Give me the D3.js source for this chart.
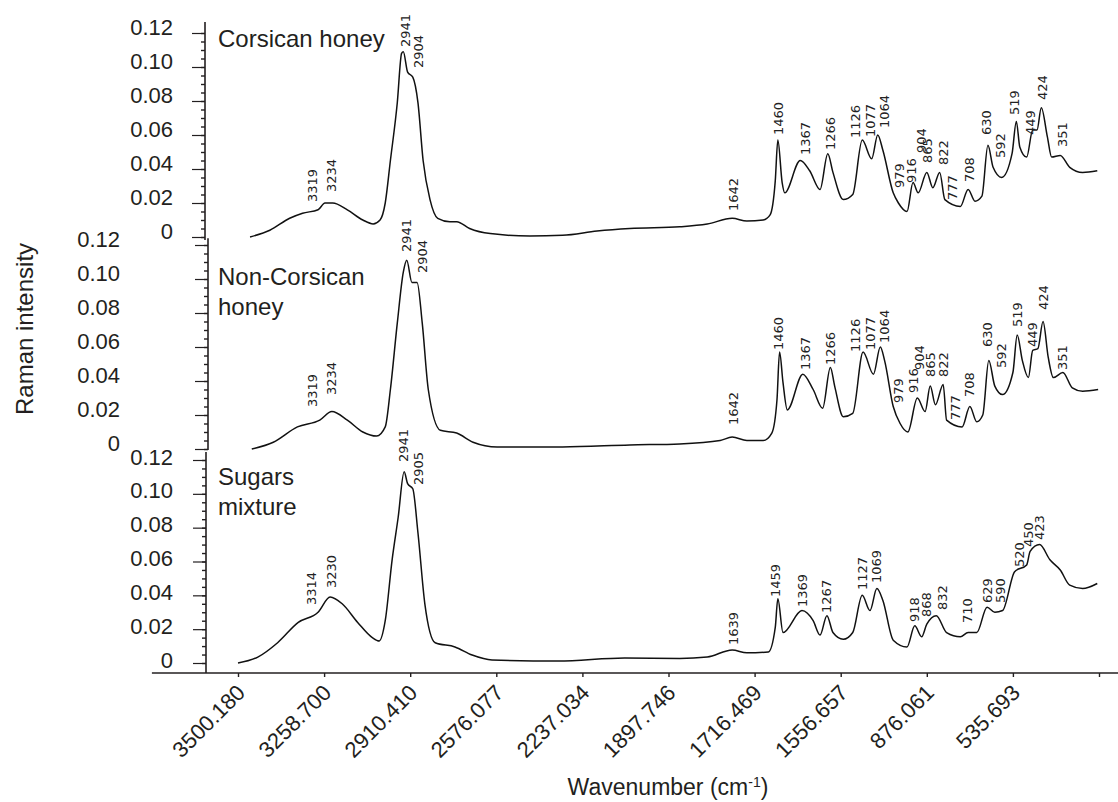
<!DOCTYPE html>
<html>
<head>
<meta charset="utf-8">
<script src="https://cdn.jsdelivr.net/npm/d3@7"></script>
<style>
  body { margin: 0; background: #fff; }
  svg { font-family: "Liberation Sans", Arial, sans-serif; }
</style>
</head>
<body>
<div id="chart"></div>
<script>
// axis labels as printed (the axis is positional, tick i sits at position i)
const xTickLabels = ["3500.180", "3258.700", "2910.410", "2576.077", "2237.034",
  "1897.746", "1716.469", "1556.657", "876.061", "535.693", ""];
const yTicks = [0, 0.02, 0.04, 0.06, 0.08, 0.10, 0.12];
const panelNames = [["Corsican honey"], ["Non-Corsican", "honey"], ["Sugars", "mixture"]];

// spectra: [axis position, Raman intensity]
const corsicanSpectrum = [
  [0.14,0.000],[0.37,0.004],[0.60,0.011],[0.75,0.014],[0.93,0.016],[1.01,0.020],[1.10,0.020],
  [1.27,0.016],[1.45,0.010],[1.57,0.0077],[1.65,0.010],[1.71,0.020],[1.77,0.045],[1.85,0.079],
  [1.90,0.108],[1.92,0.109],[1.97,0.097],[2.03,0.094],[2.09,0.079],[2.15,0.045],[2.23,0.022],
  [2.32,0.011],[2.46,0.009],[2.54,0.009],[2.69,0.005],[2.93,0.002],[3.39,0.0006],[3.77,0.001],
  [4.17,0.0035],[4.55,0.005],[5.13,0.006],[5.45,0.0076],[5.74,0.011],[5.91,0.0094],[6.10,0.010],
  [6.18,0.013],[6.24,0.033],[6.27,0.057],[6.32,0.032],[6.35,0.026],[6.53,0.045],[6.64,0.039],
  [6.76,0.028],[6.85,0.049],[6.91,0.038],[7.03,0.022],[7.14,0.025],[7.25,0.057],[7.36,0.046],
  [7.43,0.060],[7.49,0.051],[7.61,0.026],[7.67,0.020],[7.77,0.015],[7.84,0.032],[7.90,0.026],
  [8.00,0.038],[8.07,0.029],[8.15,0.038],[8.21,0.022],[8.39,0.018],[8.48,0.028],[8.56,0.021],
  [8.64,0.024],[8.71,0.054],[8.77,0.041],[8.87,0.035],[8.99,0.049],[9.04,0.068],[9.08,0.053],
  [9.16,0.047],[9.23,0.063],[9.28,0.063],[9.33,0.076],[9.40,0.059],[9.45,0.047],[9.55,0.048],
  [9.66,0.041],[9.81,0.038],[9.98,0.039]
];
const nonCorsicanSpectrum = [
  [0.16,0.000],[0.41,0.004],[0.69,0.013],[0.95,0.017],[1.09,0.022],[1.27,0.017],[1.45,0.010],
  [1.61,0.0076],[1.71,0.013],[1.77,0.035],[1.85,0.074],[1.92,0.104],[1.96,0.111],[2.02,0.098],
  [2.08,0.098],[2.14,0.074],[2.21,0.035],[2.35,0.011],[2.54,0.0094],[2.73,0.004],[3.01,0.0012],
  [3.77,0.0012],[4.55,0.0024],[5.13,0.003],[5.60,0.005],[5.74,0.007],[5.91,0.005],[6.10,0.005],
  [6.20,0.0094],[6.26,0.029],[6.29,0.057],[6.33,0.039],[6.38,0.023],[6.56,0.044],[6.68,0.035],
  [6.79,0.024],[6.88,0.048],[6.93,0.037],[7.03,0.019],[7.14,0.021],[7.26,0.057],[7.38,0.044],
  [7.46,0.060],[7.51,0.052],[7.61,0.025],[7.69,0.015],[7.78,0.010],[7.89,0.030],[7.98,0.022],
  [8.04,0.037],[8.10,0.026],[8.19,0.038],[8.23,0.017],[8.41,0.013],[8.50,0.025],[8.58,0.016],
  [8.65,0.020],[8.72,0.052],[8.79,0.037],[8.88,0.032],[9.00,0.045],[9.05,0.067],[9.11,0.052],
  [9.18,0.042],[9.23,0.058],[9.29,0.059],[9.35,0.075],[9.41,0.054],[9.47,0.042],[9.58,0.045],
  [9.69,0.036],[9.81,0.034],[9.99,0.035]
];
const sugarsSpectrum = [
  [0.00,0.000],[0.23,0.0035],[0.46,0.012],[0.70,0.024],[0.93,0.030],[1.07,0.039],[1.21,0.035],
  [1.39,0.024],[1.56,0.015],[1.64,0.013],[1.71,0.025],[1.79,0.061],[1.86,0.086],[1.93,0.113],
  [1.97,0.106],[2.03,0.103],[2.09,0.077],[2.17,0.035],[2.29,0.012],[2.52,0.0095],[2.72,0.0047],
  [2.95,0.0018],[3.72,0.0012],[4.49,0.003],[5.13,0.0027],[5.45,0.0035],[5.74,0.0077],[5.91,0.006],
  [6.16,0.0065],[6.24,0.021],[6.27,0.038],[6.33,0.018],[6.55,0.031],[6.68,0.025],[6.76,0.0165],
  [6.84,0.028],[6.91,0.018],[7.03,0.014],[7.14,0.018],[7.25,0.040],[7.34,0.031],[7.42,0.044],
  [7.49,0.037],[7.61,0.0135],[7.77,0.0095],[7.86,0.022],[7.94,0.0155],[8.00,0.023],[8.11,0.028],
  [8.23,0.018],[8.39,0.0155],[8.48,0.018],[8.58,0.018],[8.70,0.033],[8.79,0.030],[8.88,0.031],
  [9.02,0.054],[9.16,0.058],[9.20,0.066],[9.31,0.070],[9.43,0.061],[9.55,0.055],[9.66,0.046],
  [9.81,0.044],[9.98,0.047]
];

// peak annotations: [wavenumber, axis position, intensity at the foot of the label]
const corsicanPeaks = [
  ["3319",0.86,0.0206],["3234",1.08,0.0265],["2941",1.94,0.1118],["2904",2.09,0.0994],
  ["1642",5.75,0.0153],["1460",6.28,0.060],["1367",6.59,0.0482],["1266",6.88,0.0512],
  ["1126",7.17,0.0582],["1077",7.34,0.0588],["1064",7.51,0.0641],["979",7.68,0.0288],
  ["916",7.82,0.0318],["904",7.94,0.0494],["865",8.01,0.0435],["822",8.19,0.0424],
  ["777",8.30,0.0218],["708",8.50,0.0324],["630",8.69,0.060],["592",8.85,0.0465],
  ["519",9.02,0.0718],["449",9.20,0.060],["424",9.34,0.0806],["351",9.57,0.0529]
];
const nonCorsicanPeaks = [
  ["3319",0.87,0.0247],["3234",1.09,0.0318],["2941",1.96,0.1159],["2904",2.14,0.1035],
  ["1642",5.75,0.0141],["1460",6.28,0.0582],["1367",6.59,0.0465],["1266",6.88,0.0494],
  ["1126",7.17,0.0571],["1077",7.34,0.0582],["1064",7.51,0.0624],["979",7.67,0.0271],
  ["916",7.84,0.0329],["904",7.92,0.0465],["865",8.04,0.0424],["822",8.19,0.0424],
  ["777",8.33,0.0171],["708",8.50,0.0306],["630",8.70,0.060],["592",8.87,0.0476],
  ["519",9.05,0.0718],["449",9.23,0.060],["424",9.35,0.0818],["351",9.57,0.0465]
];
const sugarsPeaks = [
  ["3314",0.85,0.0343],["3230",1.09,0.0443],["2941",1.92,0.1188],["2905",2.09,0.1052],
  ["1639",5.75,0.0106],["1459",6.24,0.039],["1369",6.56,0.0331],["1267",6.84,0.0296],
  ["1127",7.25,0.0431],["1069",7.42,0.0473],["918",7.86,0.0242],["868",8.00,0.0272],
  ["832",8.18,0.0313],["710",8.47,0.0236],["629",8.71,0.0355],["590",8.85,0.0355],
  ["520",9.08,0.0567],["450",9.18,0.0686],["423",9.31,0.0727]
];

const width = 1118, height = 802;
const ink = "#231f20";
const axisY = 673;

const svg = d3.select("#chart")
  .append("svg")
    .attr("width", width)
    .attr("height", height)
    .attr("viewBox", [0, 0, width, height]);

const xScale = d3.scaleLinear()
  .domain([0, 10])
  .range([238, 1099]);

// three stacked panels, each with its own intensity axis
const panels = [
  { name: panelNames[0], spectrum: corsicanSpectrum, peaks: corsicanPeaks,
    range: [237, 33], axisX: 205, extent: [-0.0018, 0.1265], pad: 19, shift: -6, nameY: 47 },
  { name: panelNames[1], spectrum: nonCorsicanSpectrum, peaks: nonCorsicanPeaks,
    range: [449, 245], axisX: 208, extent: [-0.0006, 0.124], pad: 75, shift: -6, nameY: 285 },
  { name: panelNames[2], spectrum: sugarsSpectrum, peaks: sugarsPeaks,
    range: [663, 460], axisX: 206, extent: [-0.0059, 0.1247], pad: 20, shift: -3, nameY: 485 }
];

panels.forEach(p => {
  const yScale = d3.scaleLinear()
    .domain([0, 0.12])
    .range(p.range);

  const g = svg.append("g")
    .attr("transform", `translate(${p.axisX}, 0)`);

  // axis line
  g.append("line")
    .attr("y1", yScale(p.extent[0]))
    .attr("y2", yScale(p.extent[1]))
    .attr("stroke", ink)
    .attr("stroke-width", 1.6);

  // minor ticks
  g.append("g")
    .call(d3.axisLeft(yScale)
      .tickValues(d3.range(0, 0.1201, 0.005))
      .tickSize(4)
      .tickFormat(""))
    .call(a => a.select(".domain").remove())
    .call(a => a.selectAll("line").attr("stroke", ink).attr("stroke-width", 1.4));

  // major ticks
  g.append("g")
    .call(d3.axisLeft(yScale)
      .tickValues(yTicks)
      .tickSize(13)
      .tickPadding(p.pad)
      .tickFormat(d => d === 0 ? "0" : d3.format(".2f")(d)))
    .call(a => a.select(".domain").remove())
    .call(a => a.selectAll("line").attr("stroke", ink).attr("stroke-width", 1.2))
    .call(a => a.selectAll("text")
      .attr("y", p.shift)
      .attr("fill", ink)
      .style("font-size", "22px")
      .style("font-family", "'Liberation Sans', Arial, sans-serif"));

  // spectrum
  const line = d3.line()
    .x(d => xScale(d[0]))
    .y(d => yScale(d[1]))
    .curve(d3.curveMonotoneX);
  svg.append("path")
    .datum(p.spectrum)
    .attr("d", line)
    .attr("fill", "none")
    .attr("stroke", "#111")
    .attr("stroke-width", 1.5)
    .attr("stroke-linejoin", "round");

  // peak labels
  svg.append("g")
    .selectAll("text")
    .data(p.peaks)
    .join("text")
      .attr("transform", d => `translate(${xScale(d[1])}, ${yScale(d[2])}) rotate(-90)`)
      .attr("dy", "0.35em")
      .attr("fill", "#222")
      .style("font-family", "'DejaVu Sans', sans-serif")
      .style("font-size", "13px")
      .text(d => d[0]);

  // panel name
  const nameText = svg.append("text")
    .attr("x", 218)
    .attr("y", p.nameY)
    .attr("fill", ink)
    .style("font-size", "24px");
  p.name.forEach((s, i) => {
    nameText.append("tspan")
      .attr("x", 218)
      .attr("dy", i === 0 ? 0 : 30)
      .text(s);
  });
});

// bottom axis
svg.append("line")
  .attr("x1", xScale(-1))
  .attr("x2", xScale(10.23))
  .attr("y1", axisY)
  .attr("y2", axisY)
  .attr("stroke", ink)
  .attr("stroke-width", 1.4);

const bottomAxis = d3.axisBottom(xScale)
  .tickValues(d3.range(0, 11))
  .tickSize(4)
  .tickFormat(i => xTickLabels[i]);
svg.append("g")
  .attr("transform", `translate(0, ${axisY})`)
  .call(bottomAxis)
  .call(a => a.select(".domain").remove())
  .call(a => a.selectAll("line").attr("stroke", ink).attr("stroke-width", 1.4))
  .call(a => a.selectAll("text")
    .attr("x", 0)
    .attr("y", 0)
    .attr("dy", null)
    .attr("text-anchor", "end")
    .attr("transform", "translate(8, 21) rotate(-45)")
    .attr("fill", ink)
    .style("font-size", "22px")
    .style("font-family", "'Liberation Sans', Arial, sans-serif"));

// axis titles
svg.append("text")
  .attr("transform", "translate(33, 329) rotate(-90)")
  .attr("text-anchor", "middle")
  .attr("fill", ink)
  .style("font-size", "24px")
  .text("Raman intensity");

const xTitle = svg.append("text")
  .attr("x", 668)
  .attr("y", 795)
  .attr("text-anchor", "middle")
  .attr("fill", ink)
  .style("font-size", "23px");
xTitle.append("tspan").text("Wavenumber (cm");
xTitle.append("tspan")
  .attr("baseline-shift", "super")
  .style("font-size", "14px")
  .text("-1");
xTitle.append("tspan").text(")");
</script>
</body>
</html>
